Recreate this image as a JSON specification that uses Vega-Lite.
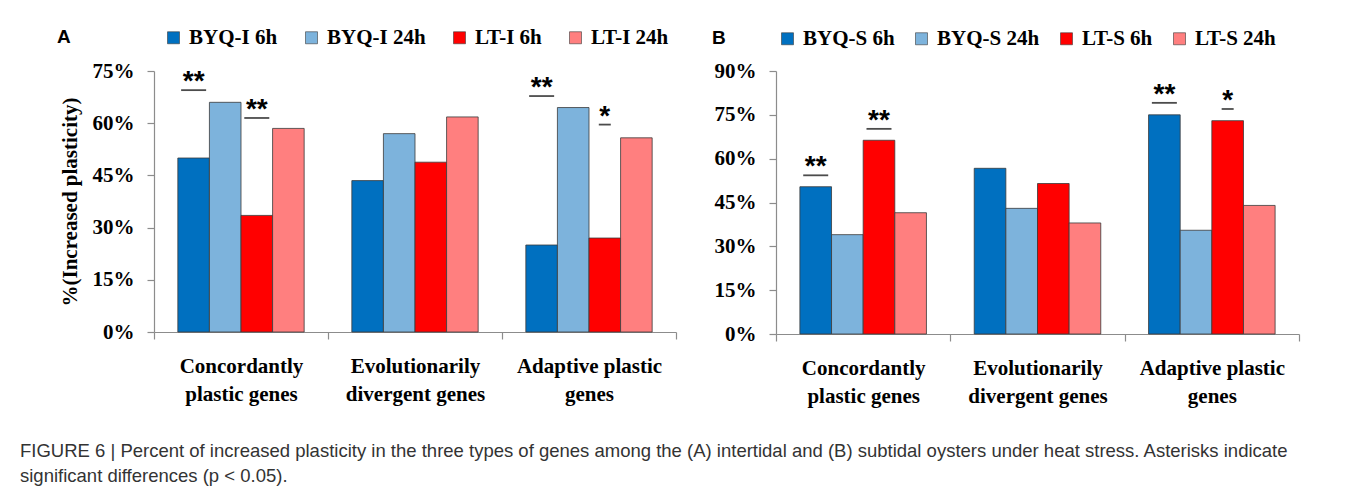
{
  "$schema": "https://vega.github.io/schema/vega-lite/v6.json",
  "background": "white",
  "padding": {"left": 20, "top": 27, "right": 5, "bottom": 5},
  "title": {
    "text": ["FIGURE 6 | Percent of increased plasticity in the three types of genes among the (A) intertidal and (B) subtidal oysters under heat stress. Asterisks indicate", "significant differences (p < 0.05)."],
    "orient": "bottom",
    "anchor": "start",
    "frame": "bounds",
    "dx": -37,
    "offset": 36,
    "font": "Liberation Sans, sans-serif",
    "fontSize": 18.5,
    "fontWeight": "normal",
    "color": "#333333",
    "lineHeight": 25
  },
  "datasets": {
    "bars": [
      {"panel": "A", "gene_type": "Concordantly plastic genes", "series": "BYQ-I 6h", "pct": 50.0},
      {"panel": "A", "gene_type": "Concordantly plastic genes", "series": "BYQ-I 24h", "pct": 66.0},
      {"panel": "A", "gene_type": "Concordantly plastic genes", "series": "LT-I 6h", "pct": 33.5},
      {"panel": "A", "gene_type": "Concordantly plastic genes", "series": "LT-I 24h", "pct": 58.5},
      {"panel": "A", "gene_type": "Evolutionarily divergent genes", "series": "BYQ-I 6h", "pct": 43.5},
      {"panel": "A", "gene_type": "Evolutionarily divergent genes", "series": "BYQ-I 24h", "pct": 57.0},
      {"panel": "A", "gene_type": "Evolutionarily divergent genes", "series": "LT-I 6h", "pct": 48.8},
      {"panel": "A", "gene_type": "Evolutionarily divergent genes", "series": "LT-I 24h", "pct": 61.8},
      {"panel": "A", "gene_type": "Adaptive plastic genes", "series": "BYQ-I 6h", "pct": 25.0},
      {"panel": "A", "gene_type": "Adaptive plastic genes", "series": "BYQ-I 24h", "pct": 64.5},
      {"panel": "A", "gene_type": "Adaptive plastic genes", "series": "LT-I 6h", "pct": 27.0},
      {"panel": "A", "gene_type": "Adaptive plastic genes", "series": "LT-I 24h", "pct": 55.8},
      {"panel": "B", "gene_type": "Concordantly plastic genes", "series": "BYQ-S 6h", "pct": 50.4},
      {"panel": "B", "gene_type": "Concordantly plastic genes", "series": "BYQ-S 24h", "pct": 34.0},
      {"panel": "B", "gene_type": "Concordantly plastic genes", "series": "LT-S 6h", "pct": 66.3},
      {"panel": "B", "gene_type": "Concordantly plastic genes", "series": "LT-S 24h", "pct": 41.5},
      {"panel": "B", "gene_type": "Evolutionarily divergent genes", "series": "BYQ-S 6h", "pct": 56.7},
      {"panel": "B", "gene_type": "Evolutionarily divergent genes", "series": "BYQ-S 24h", "pct": 43.0},
      {"panel": "B", "gene_type": "Evolutionarily divergent genes", "series": "LT-S 6h", "pct": 51.5},
      {"panel": "B", "gene_type": "Evolutionarily divergent genes", "series": "LT-S 24h", "pct": 38.0},
      {"panel": "B", "gene_type": "Adaptive plastic genes", "series": "BYQ-S 6h", "pct": 75.0},
      {"panel": "B", "gene_type": "Adaptive plastic genes", "series": "BYQ-S 24h", "pct": 35.5},
      {"panel": "B", "gene_type": "Adaptive plastic genes", "series": "LT-S 6h", "pct": 73.0},
      {"panel": "B", "gene_type": "Adaptive plastic genes", "series": "LT-S 24h", "pct": 44.0}
    ],
    "sig": [
      {"panel": "A", "gene_type": "Concordantly plastic genes", "series": "BYQ-I 6h", "line": 69.5, "label": "**"},
      {"panel": "A", "gene_type": "Concordantly plastic genes", "series": "LT-I 6h", "line": 61.5, "label": "**"},
      {"panel": "A", "gene_type": "Adaptive plastic genes", "series": "BYQ-I 6h", "line": 67.8, "label": "**"},
      {"panel": "A", "gene_type": "Adaptive plastic genes", "series": "LT-I 6h", "line": 59.6, "label": "*"},
      {"panel": "B", "gene_type": "Concordantly plastic genes", "series": "BYQ-S 6h", "line": 54.3, "label": "**"},
      {"panel": "B", "gene_type": "Concordantly plastic genes", "series": "LT-S 6h", "line": 70.2, "label": "**"},
      {"panel": "B", "gene_type": "Adaptive plastic genes", "series": "BYQ-S 6h", "line": 79.1, "label": "**"},
      {"panel": "B", "gene_type": "Adaptive plastic genes", "series": "LT-S 6h", "line": 77.0, "label": "*"}
    ]
  },
  "spacing": 35,
  "resolve": {"scale": {"color": "independent", "xOffset": "independent", "size": "independent", "x": "independent", "y": "independent"}},
  "hconcat": [
    {
      "width": 522,
      "height": 261,
      "layer": [
        {
          "data": {"name": "bars"},
          "transform": [{"filter": "datum.panel == 'A'"}],
          "mark": {"type": "bar", "stroke": "#3a3a3a", "strokeWidth": 0.8},
          "encoding": {
            "x": {"field": "gene_type", "type": "nominal", "scale": {"domain": ["Concordantly plastic genes", "Evolutionarily divergent genes", "Adaptive plastic genes"], "paddingInner": 0, "paddingOuter": 0}, "axis": {"title": null, "tickBand": "extent", "labelAngle": 0, "labelExpr": "datum.value == 'Concordantly plastic genes' ? ['Concordantly', 'plastic genes'] : datum.value == 'Evolutionarily divergent genes' ? ['Evolutionarily', 'divergent genes'] : datum.value == 'Adaptive plastic genes' ? ['Adaptive plastic', 'genes'] : ''"}},
            "xOffset": {"field": "series", "type": "nominal", "scale": {"domain": ["BYQ-I 6h", "BYQ-I 24h", "LT-I 6h", "LT-I 24h"], "paddingInner": 0, "paddingOuter": 0.755}},
            "y": {"field": "pct", "type": "quantitative", "scale": {"domain": [0, 75], "nice": false}, "axis": {"values": [0, 15, 30, 45, 60, 75], "labelExpr": "datum.value + '%'", "title": "%(Increased plasticity)"}},
            "color": {"field": "series", "type": "nominal", "scale": {"domain": ["BYQ-I 6h", "BYQ-I 24h", "LT-I 6h", "LT-I 24h"], "range": ["#0070C0", "#7DB3DC", "#FF0000", "#FF7F7F"]}, "legend": {"title": "A", "orient": "none", "legendX": -97, "legendY": -44, "direction": "horizontal", "titleOrient": "left", "titlePadding": 92}}
          }
        },
        {
          "data": {"name": "sig"},
          "transform": [{"filter": "datum.panel == 'A'"}],
          "mark": {"type": "tick", "orient": "horizontal", "thickness": 1.8, "color": "black"},
          "encoding": {
            "x": {"field": "gene_type", "type": "nominal"},
            "xOffset": {"field": "series", "type": "nominal", "bandPosition": 1},
            "y": {"field": "line", "type": "quantitative"},
            "size": {"field": "label", "type": "ordinal", "scale": {"domain": ["*", "**"], "range": [12, 25]}, "legend": null}
          }
        },
        {
          "data": {"name": "sig"},
          "transform": [{"filter": "datum.panel == 'A'"}],
          "mark": {"type": "text", "font": "Liberation Sans", "fontWeight": "bold", "fontSize": 28, "baseline": "alphabetic", "color": "black"},
          "encoding": {
            "x": {"field": "gene_type", "type": "nominal"},
            "xOffset": {"field": "series", "type": "nominal", "bandPosition": 1},
            "y": {"field": "line", "type": "quantitative"},
            "text": {"field": "label"}
          }
        }
      ]
    },
    {
      "width": 523,
      "height": 263,
      "layer": [
        {
          "data": {"name": "bars"},
          "transform": [{"filter": "datum.panel == 'B'"}],
          "mark": {"type": "bar", "stroke": "#3a3a3a", "strokeWidth": 0.8},
          "encoding": {
            "x": {"field": "gene_type", "type": "nominal", "scale": {"domain": ["Concordantly plastic genes", "Evolutionarily divergent genes", "Adaptive plastic genes"], "paddingInner": 0, "paddingOuter": 0}, "axis": {"title": null, "tickBand": "extent", "labelAngle": 0, "labelExpr": "datum.value == 'Concordantly plastic genes' ? ['Concordantly', 'plastic genes'] : datum.value == 'Evolutionarily divergent genes' ? ['Evolutionarily', 'divergent genes'] : datum.value == 'Adaptive plastic genes' ? ['Adaptive plastic', 'genes'] : ''"}},
            "xOffset": {"field": "series", "type": "nominal", "scale": {"domain": ["BYQ-S 6h", "BYQ-S 24h", "LT-S 6h", "LT-S 24h"], "paddingInner": 0, "paddingOuter": 0.755}},
            "y": {"field": "pct", "type": "quantitative", "scale": {"domain": [0, 90], "nice": false}, "axis": {"values": [0, 15, 30, 45, 60, 75, 90], "labelExpr": "datum.value + '%'", "title": null}},
            "color": {"field": "series", "type": "nominal", "scale": {"domain": ["BYQ-S 6h", "BYQ-S 24h", "LT-S 6h", "LT-S 24h"], "range": ["#0070C0", "#7DB3DC", "#FF0000", "#FF7F7F"]}, "legend": {"title": "B", "orient": "none", "legendX": -64, "legendY": -43, "direction": "horizontal", "titleOrient": "left", "titlePadding": 51, "columnPadding": 16}}
          }
        },
        {
          "data": {"name": "sig"},
          "transform": [{"filter": "datum.panel == 'B'"}],
          "mark": {"type": "tick", "orient": "horizontal", "thickness": 1.8, "color": "black"},
          "encoding": {
            "x": {"field": "gene_type", "type": "nominal"},
            "xOffset": {"field": "series", "type": "nominal", "bandPosition": 1},
            "y": {"field": "line", "type": "quantitative"},
            "size": {"field": "label", "type": "ordinal", "scale": {"domain": ["*", "**"], "range": [12, 25]}, "legend": null}
          }
        },
        {
          "data": {"name": "sig"},
          "transform": [{"filter": "datum.panel == 'B'"}],
          "mark": {"type": "text", "font": "Liberation Sans", "fontWeight": "bold", "fontSize": 28, "baseline": "alphabetic", "color": "black"},
          "encoding": {
            "x": {"field": "gene_type", "type": "nominal"},
            "xOffset": {"field": "series", "type": "nominal", "bandPosition": 1},
            "y": {"field": "line", "type": "quantitative"},
            "text": {"field": "label"}
          }
        }
      ]
    }
  ],
  "config": {
    "view": {"stroke": null},
    "axis": {
      "grid": false,
      "domainColor": "#8c8c8c",
      "domainWidth": 1.2,
      "tickColor": "#8c8c8c",
      "tickWidth": 1.2,
      "tickSize": 7,
      "labelFont": "Liberation Serif",
      "labelFontWeight": "bold",
      "labelFontSize": 21,
      "labelColor": "black",
      "titleFont": "Liberation Serif",
      "titleFontWeight": "bold",
      "titleFontSize": 21,
      "titleColor": "black"
    },
    "axisY": {"labelPadding": 13, "titlePadding": 12},
    "axisX": {"labelPadding": 16, "labelLineHeight": 28, "labelBaseline": "top"},
    "legend": {
      "symbolType": "square",
      "symbolSize": 144,
      "symbolStrokeColor": "#3a3a3a",
      "symbolStrokeWidth": 0.6,
      "symbolOpacity": 1,
      "labelFont": "Liberation Serif",
      "labelFontWeight": "bold",
      "labelFontSize": 21,
      "labelColor": "black",
      "labelOffset": 5,
      "columnPadding": 23,
      "titleFont": "Liberation Sans",
      "titleFontWeight": "bold",
      "titleFontSize": 19,
      "titleColor": "black",
      "titleBaseline": "middle"
    }
  }
}
